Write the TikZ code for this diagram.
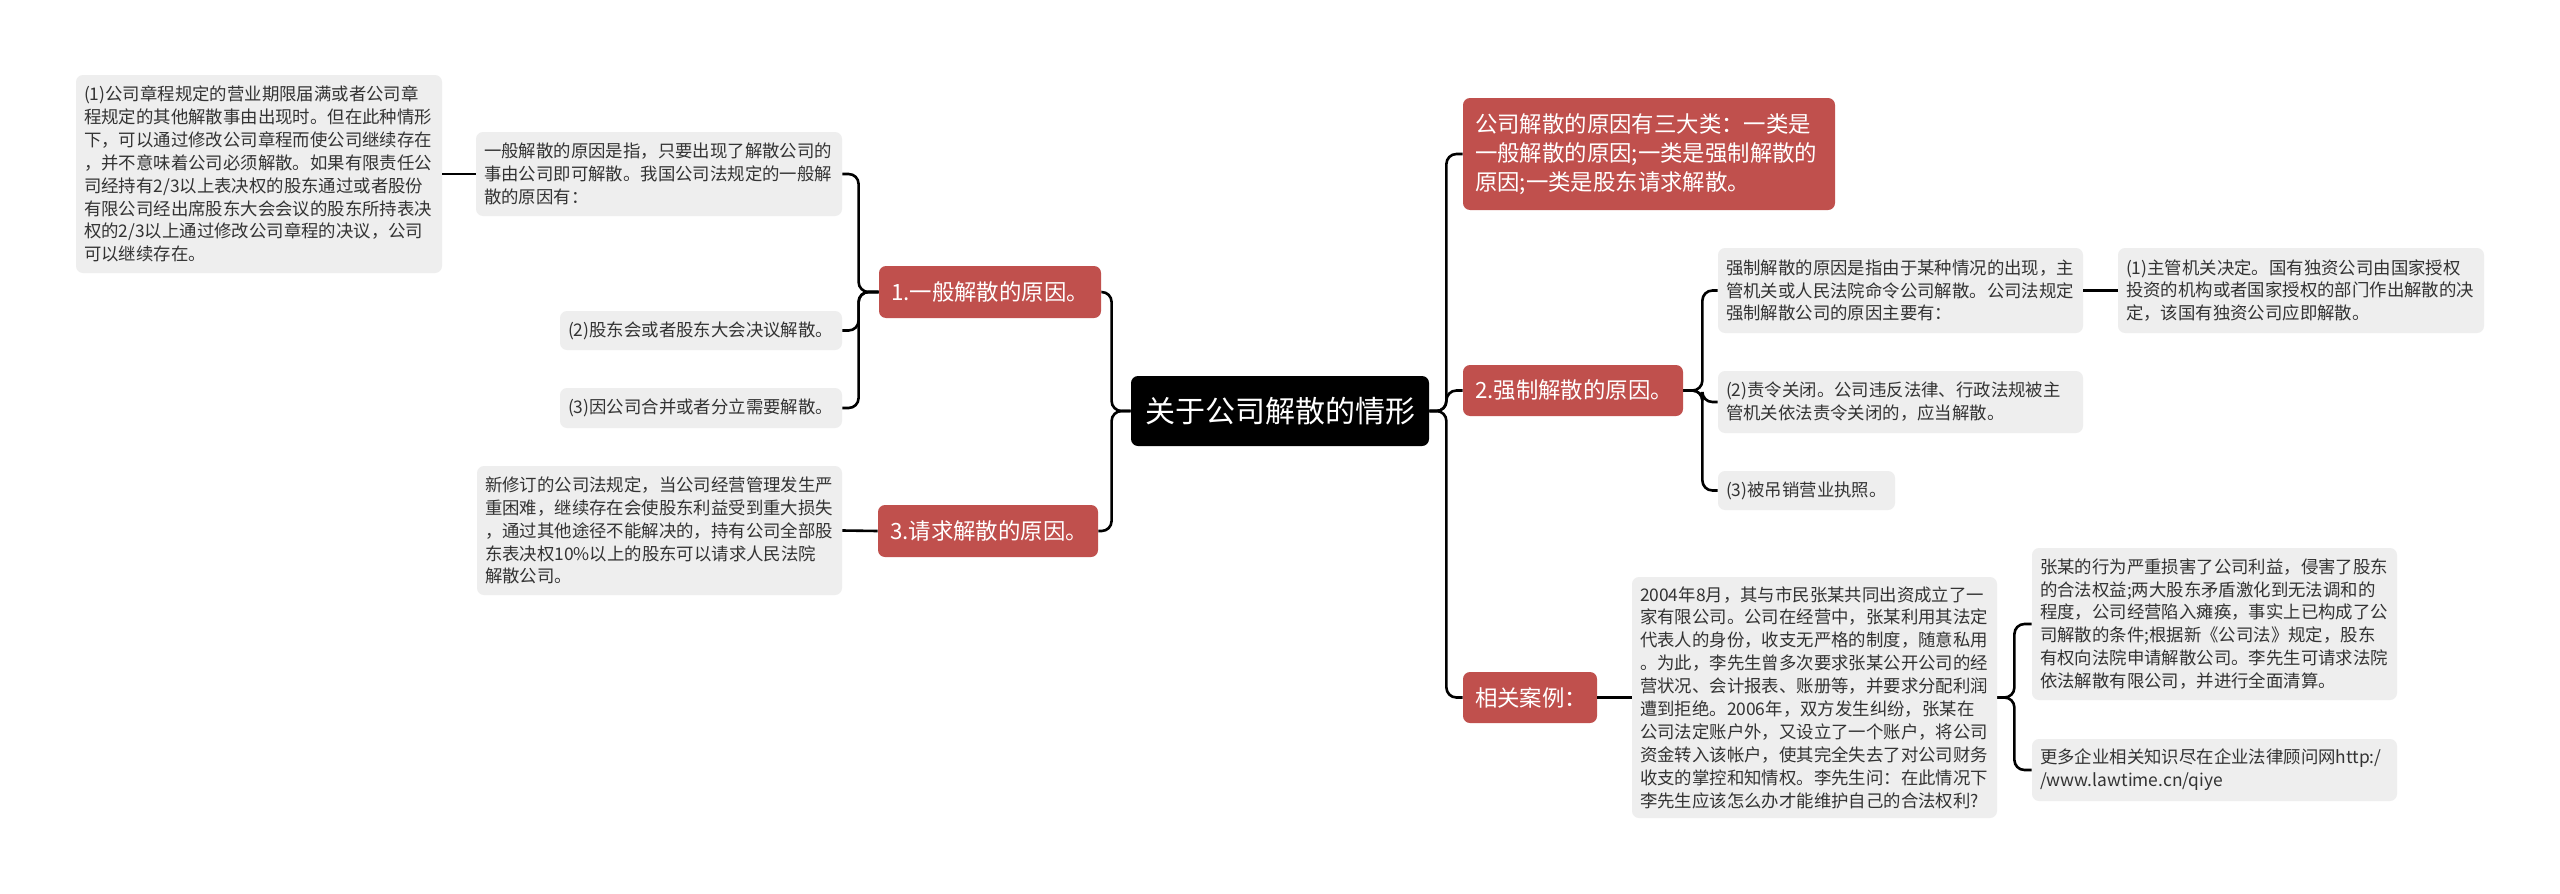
\documentclass[tikz,border=0pt]{standalone}
\usepackage{fontspec}
\setmainfont{Noto Sans CJK SC}
\definecolor{redbox}{RGB}{192,80,77}
\definecolor{boxgray}{RGB}{238,238,238}
\definecolor{textgray}{RGB}{51,51,51}
\tikzset{
  gbox/.style={fill=boxgray, rounded corners=3.5pt, inner xsep=4pt, inner ysep=0pt, align=left, text=textgray, font=\fontsize{8.7}{11.45}\selectfont},
  rbox/.style={fill=redbox, rounded corners=3.5pt, inner xsep=6pt, inner ysep=0pt, align=left, text=white, font=\fontsize{11.2}{14.5}\selectfont},
  rootbox/.style={fill=black, rounded corners=3.5pt, inner sep=0pt, align=center, text=white, font=\fontsize{15}{18}\selectfont},
  conn/.style={draw=black, line width=1.3pt, rounded corners=5pt},
}
\begin{document}
\begin{tikzpicture}[x=0.5pt,y=-0.5pt]
\useasboundingbox[fill=white] (0,0) rectangle (2560,894);
% root
\node[rootbox, minimum width=149pt, minimum height=35pt] (c) at (1280,411) {关于公司解散的情形};
% red nodes
\node[rbox, text width=174pt, minimum height=56pt] (t) at (1649,154) {公司解散的原因有三大类：一类是\\一般解散的原因;一类是强制解散的\\原因;一类是股东请求解散。};
\node[rbox, text width=98pt, minimum height=25.5pt] (n2) at (1573,390.5) {2.强制解散的原因。};
\node[rbox, text width=55pt, minimum height=25.5pt] (n4) at (1530,697.5) {相关案例：};
\node[rbox, text width=99pt, minimum height=26pt] (n1) at (990,292) {1.一般解散的原因。};
\node[rbox, text width=98pt, minimum height=26pt] (n3) at (988,531) {3.请求解散的原因。};
% left gray boxes
\node[gbox, text width=175pt, minimum height=99pt] (l1) at (259,174) {(1)公司章程规定的营业期限届满或者公司章\\程规定的其他解散事由出现时。但在此种情形\\下，可以通过修改公司章程而使公司继续存在\\，并不意味着公司必须解散。如果有限责任公\\司经持有2/3以上表决权的股东通过或者股份\\有限公司经出席股东大会会议的股东所持表决\\权的2/3以上通过修改公司章程的决议，公司\\可以继续存在。};
\node[gbox, text width=175pt, minimum height=42pt] (l2) at (659,174) {一般解散的原因是指，只要出现了解散公司的\\事由公司即可解散。我国公司法规定的一般解\\散的原因有：};
\node[gbox, text width=133pt, minimum height=19.5pt] (l3) at (701,330.5) {(2)股东会或者股东大会决议解散。};
\node[gbox, text width=133pt, minimum height=20pt] (l4) at (701,408) {(3)因公司合并或者分立需要解散。};
\node[gbox, text width=174.5pt, minimum height=64.5pt] (l5) at (659.5,530.5) {新修订的公司法规定，当公司经营管理发生严\\重困难，继续存在会使股东利益受到重大损失\\，通过其他途径不能解决的，持有公司全部股\\东表决权10\%以上的股东可以请求人民法院\\解散公司。};
% right gray boxes
\node[gbox, text width=174.5pt, minimum height=42.5pt] (r1) at (1900.5,290.5) {强制解散的原因是指由于某种情况的出现，主\\管机关或人民法院命令公司解散。公司法规定\\强制解散公司的原因主要有：};
\node[gbox, text width=175pt, minimum height=42.5pt] (r2) at (2301,290.5) {(1)主管机关决定。国有独资公司由国家授权\\投资的机构或者国家授权的部门作出解散的决\\定，该国有独资公司应即解散。};
\node[gbox, text width=174.5pt, minimum height=31pt] (r3) at (1900.5,402) {(2)责令关闭。公司违反法律、行政法规被主\\管机关依法责令关闭的，应当解散。};
\node[gbox, text width=80.5pt, minimum height=19.5pt] (r4) at (1806.5,490.5) {(3)被吊销营业执照。};
\node[gbox, text width=174.5pt, minimum height=120.5pt] (r5) at (1814.5,697.5) {2004年8月，其与市民张某共同出资成立了一\\家有限公司。公司在经营中，张某利用其法定\\代表人的身份，收支无严格的制度，随意私用\\。为此，李先生曾多次要求张某公开公司的经\\营状况、会计报表、账册等，并要求分配利润\\遭到拒绝。2006年，双方发生纠纷，张某在\\公司法定账户外，又设立了一个账户，将公司\\资金转入该帐户，使其完全失去了对公司财务\\收支的掌控和知情权。李先生问：在此情况下\\李先生应该怎么办才能维护自己的合法权利?};
\node[gbox, text width=174.5pt, minimum height=76pt] (r6) at (2214.5,624) {张某的行为严重损害了公司利益，侵害了股东\\的合法权益;两大股东矛盾激化到无法调和的\\程度，公司经营陷入瘫痪，事实上已构成了公\\司解散的条件;根据新《公司法》规定，股东\\有权向法院申请解散公司。李先生可请求法院\\依法解散有限公司，并进行全面清算。};
\node[gbox, text width=174.5pt, minimum height=31pt] (r7) at (2214.5,770) {更多企业相关知识尽在企业法律顾问网http:/\\/www.lawtime.cn/qiye};
% connectors: root
\draw[conn] (c.east) -- ++(17,0) |- (t.west);
\draw[conn] (c.east) -- ++(17,0) |- (n2.west);
\draw[conn] (c.east) -- ++(17,0) |- (n4.west);
\draw[conn] (c.west) -- ++(-19,0) |- (n1.east);
\draw[conn] (c.west) -- ++(-19,0) |- (n3.east);
% branch 1
\draw[conn] (n1.west) -- ++(-20,0) |- (l2.east);
\draw[conn] (n1.west) -- ++(-20,0) |- (l3.east);
\draw[conn] (n1.west) -- ++(-20,0) |- (l4.east);
\draw[conn] (l2.west) -- (l1.east);
% branch 3
\draw[conn] (n3.west) -- (l5.east);
% branch 2
\draw[conn] (n2.east) -- ++(19,0) |- (r1.west);
\draw[conn] (n2.east) -- ++(19,0) |- (r3.west);
\draw[conn] (n2.east) -- ++(19,0) |- (r4.west);
\draw[conn] (r1.east) -- (r2.west);
% cases
\draw[conn] (n4.east) -- (r5.west);
\draw[conn] (r5.east) -- ++(17,0) |- (r6.west);
\draw[conn] (r5.east) -- ++(17,0) |- (r7.west);
\end{tikzpicture}
\end{document}
